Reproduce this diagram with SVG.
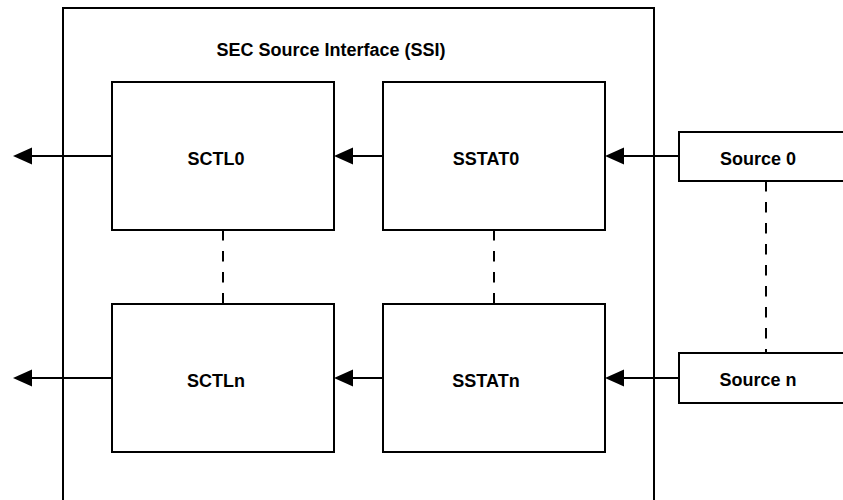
<svg xmlns="http://www.w3.org/2000/svg" width="843" height="500" viewBox="0 0 843 500">
<style>
  .box { fill: #ffffff; stroke: #000000; stroke-width: 2; }
  .frame { fill: none; stroke: #000000; stroke-width: 2; }
  .lbl { font-family: "Liberation Sans", Arial, sans-serif; font-weight: bold; font-size: 18px; fill: #000000; text-anchor: middle; }
  .arrow { fill: none; stroke: #000000; stroke-width: 2; marker-end: url(#head); }
  .dash { fill: none; stroke: #000000; stroke-width: 2; stroke-dasharray: 10.5 10.5; }
</style>
<defs>
  <marker id="head" markerUnits="userSpaceOnUse" markerWidth="20" markerHeight="18" refX="0" refY="8.5" orient="auto" overflow="visible">
    <path d="M0,0 L19,8.5 L0,17 Z" fill="#000000"/>
  </marker>
</defs>
<rect width="843" height="500" fill="#ffffff"/>
<g id="ssi">
  <rect class="frame" x="63" y="8" width="591" height="520"/>
  <text class="lbl" x="331" y="56">SEC Source Interface (SSI)</text>
</g>
<g id="sctl0">
  <rect class="box" x="112" y="82" width="222" height="148"/>
  <text class="lbl" x="216" y="165">SCTL0</text>
</g>
<g id="sstat0">
  <rect class="box" x="383" y="82" width="222" height="148"/>
  <text class="lbl" x="486" y="165">SSTAT0</text>
</g>
<g id="sctln">
  <rect class="box" x="112" y="304" width="222" height="148"/>
  <text class="lbl" x="216" y="387">SCTLn</text>
</g>
<g id="sstatn">
  <rect class="box" x="383" y="304" width="222" height="148"/>
  <text class="lbl" x="486" y="387">SSTATn</text>
</g>
<g id="source0">
  <rect class="box" x="679" y="132" width="180" height="49"/>
  <text class="lbl" x="758" y="165">Source 0</text>
</g>
<g id="sourcen">
  <rect class="box" x="679" y="353" width="180" height="50"/>
  <text class="lbl" x="758" y="386">Source n</text>
</g>
<g id="connectors">
  <line class="arrow" x1="112" y1="156" x2="32" y2="156"/>
  <line class="arrow" x1="112" y1="378" x2="32" y2="378"/>
  <line class="arrow" x1="383" y1="156" x2="353" y2="156"/>
  <line class="arrow" x1="383" y1="378" x2="353" y2="378"/>
  <line class="arrow" x1="679" y1="156" x2="624" y2="156"/>
  <line class="arrow" x1="679" y1="378" x2="624" y2="378"/>
  <line class="dash" x1="223" y1="230" x2="223" y2="304"/>
  <line class="dash" x1="494" y1="230" x2="494" y2="304"/>
  <line class="dash" x1="766" y1="181" x2="766" y2="353"/>
</g>
</svg>
